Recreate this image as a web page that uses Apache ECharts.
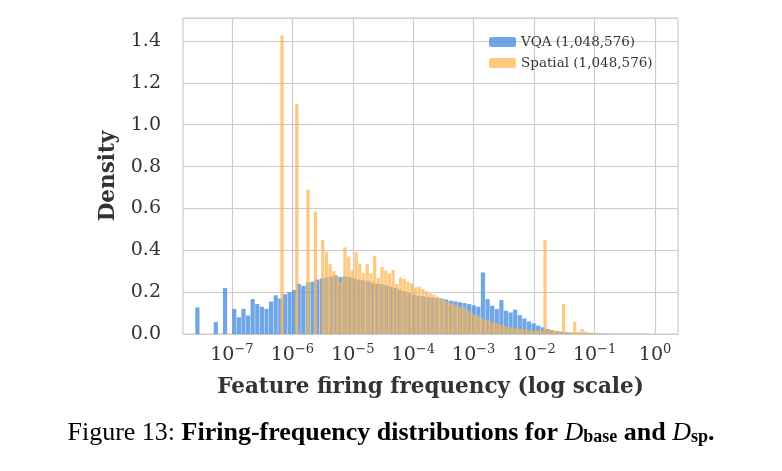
<!DOCTYPE html>
<html>
<head>
<meta charset="utf-8">
<script src="https://cdn.jsdelivr.net/npm/echarts@6/dist/echarts.min.js"></script>
<style>body{margin:0;background:#fff}#mainBox{width:782px;height:471px}</style>
</head>
<body>
<div id="mainBox"></div>
<script>
// histogram bins in log10 units: first bin centre + bin width
var vqaStart = -7.579, vqaStep = 0.0762;
var spStart = -6.172, spStep = 0.0613;

var vqaDensity = [0.127,0,0,0,0.057,0,0.22,0,0.12,0.08,0.12,0.088,0.167,0.143,0.13,0.12,0.155,0.185,0.17,0.19,
  0.2,0.21,0.24,0.23,0.245,0.25,0.26,0.265,0.27,0.275,0.28,0.272,0.275,0.271,0.266,0.26,0.257,0.252,0.245,0.24,
  0.237,0.233,0.226,0.22,0.212,0.204,0.196,0.188,0.183,0.18,0.176,0.175,0.173,0.17,0.165,0.159,0.156,0.152,0.148,0.143,
  0.137,0.13,0.294,0.167,0.135,0.119,0.162,0.111,0.103,0.116,0.09,0.074,0.06,0.051,0.04,0.032,0.024,0.019,0.014,0.011,
  0.008,0.006,0.005,0.004,0.003,0.003,0.002,0.002,0.002,0.0015,0.0015,0.001,0.001,0.001,0.001,0.001,0.001,0.001];

var spDensity = [1.426,0,0,0,1.10,0,0,0.69,0,0.584,0,0.45,0.393,0.334,0.3,0.275,0.25,0.414,0.37,0.305,
  0.39,0.337,0.29,0.334,0.29,0.374,0.268,0.32,0.303,0.29,0.306,0.239,0.27,0.263,0.25,0.242,0.223,0.226,0.215,0.204,
  0.194,0.188,0.178,0.167,0.16,0.152,0.145,0.138,0.13,0.127,0.114,0.103,0.092,0.084,0.076,0.068,0.063,0.055,0.05,0.044,
  0.039,0.034,0.031,0.028,0.025,0.024,0.022,0.019,0.017,0.016,0.014,0.449,0.02,0.019,0.015,0.012,0.143,0.01,0.01,0.058,
  0.01,0.024,0.012,0.006,0.006,0.005,0.004];

var xTicks = [-7,-6,-5,-4,-3,-2,-1,0];
var yTicks = [0,0.2,0.4,0.6,0.8,1.0,1.2,1.4];

var myChart = echarts.init(document.getElementById('mainBox'));
var font = 'DejaVu Serif';

function toPairs(start, step, arr) {
  return arr.map(function (v, i) { return [start + i * step, v]; });
}

var option = {
  animation: false,
  textStyle: {fontFamily: font},
  grid: {left: 183, right: 104, top: 18, bottom: 137, show: true, borderColor: '#cccccc', borderWidth: 1.2},
  legend: {
    left: 484, top: 30, orient: 'vertical', itemWidth: 27, itemHeight: 10, itemGap: 7,
    textStyle: {fontFamily: font, fontSize: 13.5, color: '#333'},
    data: ['VQA (1,048,576)', 'Spatial (1,048,576)']
  },
  xAxis: {
    type: 'value', min: -7.81, max: 0.38,
    name: 'Feature firing frequency (log scale)', nameLocation: 'middle', nameGap: 42,
    nameTextStyle: {fontFamily: font, fontSize: 21.5, fontWeight: 'bold', color: '#333'},
    axisLine: {show: false}, axisTick: {show: false, customValues: xTicks},
    splitLine: {show: true, lineStyle: {color: '#cccccc', width: 1.2}},
    axisLabel: {
      customValues: xTicks, margin: 9,
      formatter: function (v) { return '10{s|' + String(Math.round(v)).replace('-', '−') + '}'; },
      fontFamily: font, fontSize: 19, color: '#333',
      rich: {s: {fontFamily: font, fontSize: 13, color: '#333', padding: [0, 0, 11, 0]}}
    }
  },
  yAxis: {
    type: 'value', min: 0, max: 1.51, interval: 0.2,
    name: 'Density', nameLocation: 'middle', nameGap: 55,
    nameTextStyle: {fontFamily: font, fontSize: 21.5, fontWeight: 'bold', color: '#333'},
    axisLine: {show: false}, axisTick: {show: false},
    splitLine: {lineStyle: {color: '#cccccc', width: 1.2}},
    axisLabel: {fontSize: 19, color: '#333', margin: 22,
      formatter: function (v) { return yTicks.indexOf(Math.round(v * 10) / 10) >= 0 ? v.toFixed(1) : ''; }}
  },
  series: [
    {name: 'VQA (1,048,576)', type: 'bar', barWidth: 4.2, barGap: '-100%',
      itemStyle: {color: 'rgba(74,144,226,0.8)'}, data: toPairs(vqaStart, vqaStep, vqaDensity)},
    {name: 'Spatial (1,048,576)', type: 'bar', barWidth: 3.3, barGap: '-100%',
      itemStyle: {color: 'rgba(253,180,80,0.72)'}, data: toPairs(spStart, spStep, spDensity)}
  ],
  graphic: [{
    type: 'text', left: 'center', top: 420,
    style: {
      text: 'Figure 13: {b|Firing-frequency distributions for }{d|D}{sb|base}{b| and }{d|D}{sb|sp}{b|.}',
      fontFamily: 'Liberation Serif', fontSize: 26, fill: '#000',
      rich: {
        b: {fontFamily: 'Liberation Serif', fontSize: 26, fontWeight: 'bold'},
        d: {fontFamily: 'Liberation Serif', fontSize: 26, fontStyle: 'italic'},
        sb: {fontFamily: 'Liberation Serif', fontSize: 18, fontWeight: 'bold', padding: [9, 0, 0, 0]}
      }
    }
  }]
};

myChart.setOption(option);
</script>
</body>
</html>
